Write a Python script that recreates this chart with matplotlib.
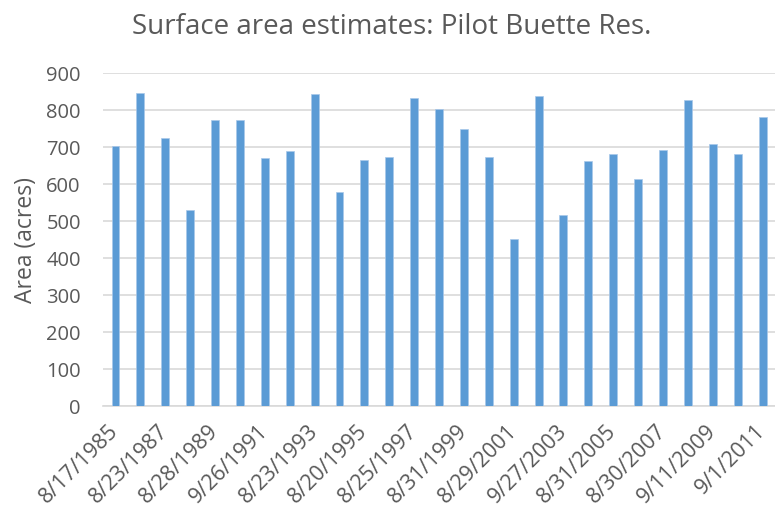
import numpy as np
import matplotlib.pyplot as plt

plt.rcParams['font.family'] = ['Open Sans', 'DejaVu Sans']

areas = [703, 846, 725, 530, 773, 773, 670, 690, 843, 579, 666, 672, 832, 804,
         749, 672, 451, 839, 517, 662, 682, 614, 693, 828, 707, 682, 780]
date_labels = ['8/17/1985', '8/23/1987', '8/28/1989', '9/26/1991', '8/23/1993',
               '8/20/1995', '8/25/1997', '8/31/1999', '8/29/2001', '9/27/2003',
               '8/31/2005', '8/30/2007', '9/11/2009', '9/1/2011']

grey = '#595959'
x = np.arange(len(areas))

fig = plt.figure(figsize=(7.75, 5.18), dpi=100)
ax = fig.add_axes([0.133, 0.216, 0.867, 0.643])
ax.bar(x, areas, width=0.32, color='#5B9BD5', edgecolor='#A9C8EA', linewidth=0.5, zorder=3)

ax.set_xlim(-0.5, len(areas) - 0.5)
ax.set_ylim(0, 900)
ax.set_yticks(range(0, 901, 100))
ax.set_xticks(x[::2])
ax.set_xticklabels(date_labels, rotation=45, ha='right', va='center',
                   rotation_mode='anchor')

ax.grid(axis='y', color='#D9D9D9', linewidth=1.2, zorder=0)
for s in ['top', 'right', 'left']:
    ax.spines[s].set_visible(False)
ax.spines['bottom'].set_color('#D9D9D9')
ax.spines['bottom'].set_linewidth(1.2)
ax.tick_params(axis='y', length=0, colors=grey, labelsize=14.5, pad=16)
ax.tick_params(axis='x', length=0, colors=grey, labelsize=15.5, pad=16)

ax.set_ylabel('Area (acres)', fontsize=16.5, color=grey, labelpad=6)
fig.suptitle('Surface area estimates: Pilot Buette Res.', fontsize=20, color=grey,
             x=0.505, y=0.975)

plt.savefig('out.png', dpi=100)
